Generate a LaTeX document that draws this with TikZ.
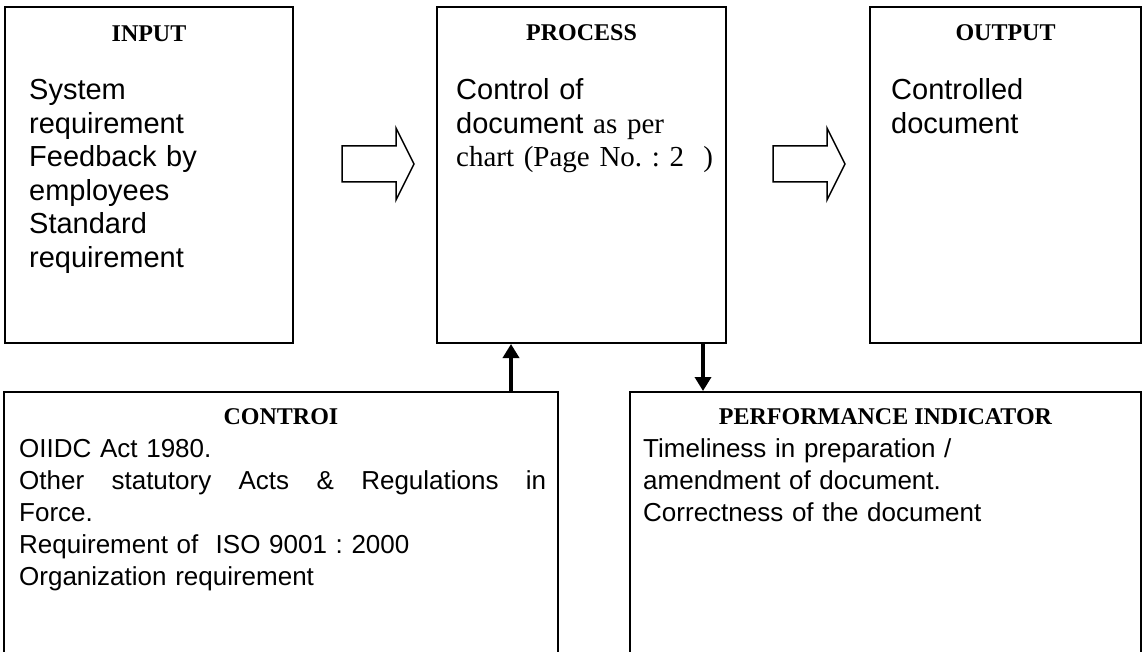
\documentclass[tikz,border=0pt]{standalone}
\usepackage{fontspec}
\setmainfont{Liberation Sans}
\newfontfamily\tnr{Liberation Serif}
\usetikzlibrary{arrows.meta,calc}
\frenchspacing

\begin{document}
\begin{tikzpicture}[
  x=1pt, y=-1pt,
  box/.style={draw,line width=2pt,inner sep=0pt},
  head/.style={font=\tnr\bfseries\fontsize{24}{28}\selectfont,inner sep=0pt,anchor=base},
  body/.style={font=\fontsize{29}{33.5}\selectfont,inner sep=0pt,anchor=base west,
    align=left,text width=#1},
  note/.style={font=\fontsize{26}{32}\selectfont,inner sep=0pt,anchor=base west,
    align=left,text width=#1},
  blockarrow/.style={draw,line width=1.5pt,line join=miter},
  stem/.style={line width=4pt,-{Triangle[length=14pt,width=16pt]}}
]
\useasboundingbox (0,0) rectangle (1147,652);
\clip (0,0) rectangle (1147,652);

% top row
\node[box,minimum width=288pt,minimum height=336pt] (input) at (149,175) {};
\node[box,minimum width=289pt,minimum height=336pt] (process) at (581.5,175) {};
\node[box,minimum width=271pt,minimum height=336pt] (output) at (1005.5,175) {};

\node[head] (inputhd) at ($(input.north)+(0,36)$) {INPUT};
\node[head] (processhd) at ($(process.north)+(0,35)$) {PROCESS};
\node[head] (outputhd) at ($(output.north)+(0,35)$) {OUTPUT};

\node[body=255pt] (inputtxt) at (29,100) {System\\ requirement\\ Feedback by\\
employees\\ Standard\\ requirement};
\node[body=265pt] (processtxt) at (456,100) {Control of\\ document {\tnr as per}\\
\mbox{\tnr chart (Page No. : 2~~)}};
\node[body=245pt] (outputtxt) at (891,100) {Controlled\\ document};

% bottom row
\node[box,minimum width=554pt,minimum height=320pt] (control) at (281,552) {};
\node[box,minimum width=511pt,minimum height=320pt] (perf) at (885.5,552) {};

\node[head] (controlhd) at ($(control.north)+(0,33)$) {CONTROI};
\node[head] (perfhd) at ($(perf.north)+(0,33)$) {PERFORMANCE INDICATOR};

\node[note=527pt] (controltxt) at (19,457) {OIIDC Act 1980.\\
\leavevmode\hbox to 527pt{Other\hfill statutory\hfill Acts\hfill \&\hfill Regulations\hfill in}\\
Force.\\ Requirement of~~ISO 9001 : 2000\\ Organization requirement};
\node[note=490pt] (perftxt) at (643,457) {Timeliness in preparation /\\
amendment of document.\\ Correctness of the document};

% connectors
\coordinate (inarrow) at (342,164);
\coordinate (outarrow) at (773,164);
\draw[blockarrow] (inarrow) ++(0,-18) -- ++(54,0) -- ++(0,-18) -- ++(18,36)
  -- ++(-18,36) -- ++(0,-18) -- ++(-54,0) -- cycle;
\draw[blockarrow] (outarrow) ++(0,-18) -- ++(54,0) -- ++(0,-18) -- ++(18,36)
  -- ++(-18,36) -- ++(0,-18) -- ++(-54,0) -- cycle;

\coordinate (upx) at (511,0);
\coordinate (downx) at (703,0);
\draw[stem] (control.north -| upx) -- (process.south -| upx);
\draw[stem] (process.south -| downx) -- (perf.north -| downx);
\end{tikzpicture}
\end{document}
